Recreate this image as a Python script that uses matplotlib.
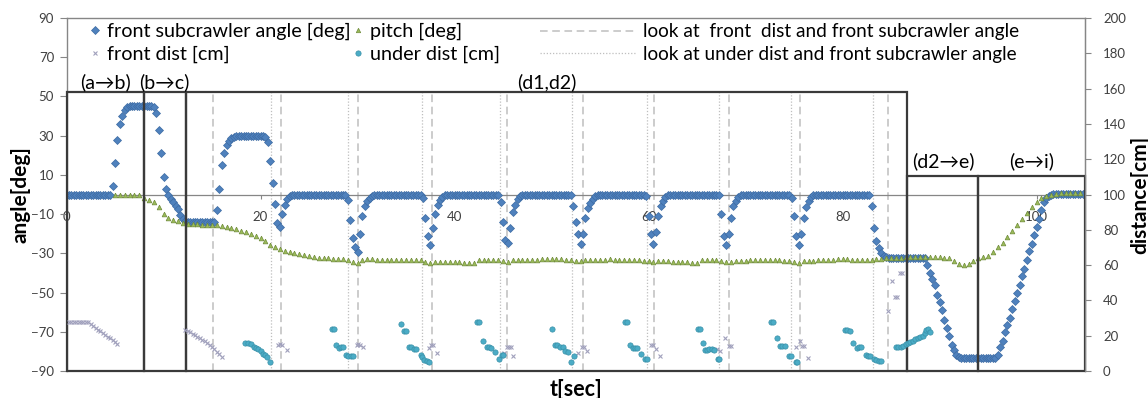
import numpy as np
import matplotlib
matplotlib.use("Agg")
import matplotlib.pyplot as plt
from matplotlib.lines import Line2D
from matplotlib.patches import Rectangle

plt.rcParams['font.family'] = ['Lato', 'DejaVu Sans']

# front subcrawler angle [deg], sampled every 0.25 s from t=0
fa_dt = 0.25
front_angle = [
    -0.5, -0.5, -0.5, -0.5, -0.5, -0.5, -0.5, -0.5, -0.5, -0.5, -0.5, -0.5, -0.5, -0.5, -0.5, -0.5, -0.5, -0.5, -0.5, 4.5,
    16, 28, 36, 40, 43, 44.5, 45, 45, 45, 45, 45, 45, 45, 45, 45, 45, 44.5, 41.7, 33, 21,
    9, 3, -0.5, -2.5, -4, -6, -7.5, -10.5, -12.5, -13.5, -14, -14, -14, -14, -14, -14, -14, -14, -14, -14,
    -14, -14, -8, 3, 15, 21, 25, 27.5, 29, 29.5, 30, 30, 30, 30, 30, 30, 30, 30, 30, 30,
    30, 30, 29.5, 27, 17, 6, -5, -14.5, -16.8, -10, -5.5, -2.5, -1, -0.3, 0, 0, 0, 0, 0, 0,
    0, 0, 0, 0, 0, 0, 0, 0, 0, 0, 0, 0, 0, 0, 0, 0, -3, -13, -22, -27,
    -29.5, -20, -11, -6, -3.5, -2, -1, -0.3, 0, 0, 0, 0, 0, 0, 0, 0, 0, 0, 0, 0,
    0, 0, 0, 0, 0, 0, 0, -2, -12, -21, -26, -17, -10, -5.5, -3, -1.5, -0.5, 0, 0, 0,
    0, 0, 0, 0, 0, 0, 0, 0, 0, 0, 0, 0, 0, 0, 0, 0, 0, 0, 0, -4,
    -14, -23, -24.5, -17, -9, -5.5, -2.5, -1, 0, 0, 0, 0, 0, 0, 0, 0, 0, 0, 0, 0,
    0, 0, 0, 0, 0, 0, 0, 0, 0, -6, -14, -20, -25, -20, -12, -7, -4.5, -2.5, -1, -0.3,
    0, 0, 0, 0, 0, 0, 0, 0, 0, 0, 0, 0, 0, 0, 0, 0, 0, 0, 0, -1,
    -11, -20, -25, -19, -11, -6, -3.5, -1.5, -0.5, 0, 0, 0, 0, 0, 0, 0, 0, 0, 0, 0,
    0, 0, 0, 0, 0, 0, 0, 0, 0, 0, -10, -21, -26, -20, -12, -6, -3.5, -1.5, -0.5, 0,
    0, 0, 0, 0, 0, 0, 0, 0, 0, 0, 0, 0, 0, 0, 0, 0, 0, 0, 0, -2,
    -11, -21, -25.5, -20, -12, -6.5, -3.5, -1.5, -0.5, 0, 0, 0, 0, 0, 0, 0, 0, 0, 0, 0,
    0, 0, 0, 0, 0, 0, 0, 0, 0, 0, 0, 0, -6, -17, -23.5, -27.5, -30, -31.2, -31.8, -32.3,
    -32.5, -32.5, -32.5, -32.5, -32.5, -32.5, -32.5, -32.5, -32.5, -32.5, -32.5, -32.5, -32.5, -32.5, -32.5, -36, -40, -43, -46, -51,
    -55, -59, -64, -68, -72, -76.5, -79.5, -82, -83, -83.5, -83.5, -83.5, -83.5, -83.5, -83.5, -83.5, -83.5, -83.5, -83.5, -83.5,
    -83.5, -83.5, -83.5, -83.5, -82, -78, -74.5, -70, -66.5, -63, -58.5, -54.5, -50, -46, -41.5, -38, -33.5, -29, -25, -20.5,
    -16.5, -12.5, -8, -4, -2, -1, -0.3, 0.5, 0.5, 0.5, 0.5, 0.5, 0.5, 0.5, 0.5, 0.5, 0.5, 0.5, 0.5, 0.5,
]

# pitch [deg], sampled every 0.5 s from t=5
pitch_t0 = 5.0
pitch_dt = 0.5
pitch = [
    -0.3, -0.3, 0, 0, -0.3, -0.5, -2, -3, -4, -6.5, -10, -12, -13, -13.7, -14.3, -14.8, -15, -15.2, -15.3, -15.4,
    -15.5, -15.7, -16.2, -16.6, -17, -17.6, -18.4, -19.3, -20.2, -21.2, -22.3, -23.8, -25.5, -27, -28, -28.7, -29.2, -29.8, -30.3, -31,
    -31.6, -32, -32.3, -32.5, -32.6, -32.7, -32.8, -33, -33.2, -34.3, -34.7, -33.3, -33, -33.1, -33.2, -33.3, -33.3, -33.4, -33.4, -33.4,
    -33.3, -33.2, -33.3, -33.6, -34.3, -35, -34.4, -34.3, -34.3, -34.4, -34.5, -34.6, -34.8, -35, -34.8, -33.4, -33.3, -33.2, -33.2, -33.5,
    -34, -34.3, -33.6, -33.4, -33.4, -33.3, -33.2, -33.2, -33.1, -33, -33, -33.1, -33.1, -33.3, -33.5, -33.9, -34.1, -33.6, -33.4, -33.3,
    -33.3, -33.2, -33.1, -33.2, -33.3, -33.4, -33.3, -33.4, -33.6, -33.8, -34, -34.2, -33.8, -34, -34.1, -34.2, -34.3, -34.3, -34.4, -34.8,
    -35, -33.5, -33.2, -33.3, -33.5, -33.9, -34.6, -34.3, -34, -33.8, -33.7, -33.6, -33.5, -33.5, -33.4, -33.4, -33.5, -33.6, -33.8, -34,
    -34.4, -34.8, -34, -33.8, -33.7, -33.6, -33.4, -33.3, -33.2, -33.1, -33, -33, -33.2, -33.4, -33.5, -33.3, -33.2, -33, -32.8, -32.6,
    -32.4, -32.3, -32.2, -32.1, -32, -32, -32, -32, -32, -32, -32.1, -32.2, -32.6, -33.8, -35.2, -35.8, -35.2, -34, -32.6, -32,
    -31.2, -29.5, -27, -24.5, -21.5, -18.5, -15.5, -12.5, -9.5, -6.5, -4, -2, -0.8, 0, 0.5, 0.7, 0.8, 0.8, 0.8, 0.8,
]

# front dist [cm]
front_dist_t = [0.25, 0.5, 0.75, 1.0, 1.25, 1.5, 1.75, 2.0, 2.25, 2.5, 2.75, 3.0, 3.25, 3.5, 3.75, 4.0, 4.25, 4.5, 4.75, 5.0, 5.25,
                12.25, 12.5, 12.75, 13.0, 13.25, 13.5, 13.75, 14.0, 14.25, 14.5, 14.75, 15.0, 15.25, 15.5, 15.75, 16.0,
                21.8, 22.0, 22.2, 22.7, 29.9, 30.1, 30.3, 30.6, 37.35, 37.55, 37.75, 38.2,
                45.1, 45.4, 45.6, 45.8, 46.05, 52.7, 53.1, 53.3, 53.7, 60.3, 60.5, 60.75, 61.2,
                67.1, 67.4, 67.9, 68.3, 68.55, 75.2, 75.6, 75.8, 76.05, 76.4,
                84.7, 85.1, 85.45, 85.6, 85.9, 86.15]
front_dist = [27.6, 27.6, 27.6, 27.6, 27.6, 27.6, 27.6, 27.6, 27.6, 26.5, 25.5, 24.5, 23.5, 22.5, 21.5, 20.5, 19.5, 18.5, 17.5, 16.3, 15.2,
              23.2, 22.5, 21.9, 21.0, 20.2, 19.5, 18.7, 17.8, 16.9, 15.8, 14.8, 13.6, 12.3, 11.0, 9.4, 7.8,
              14.7, 15.2, 14.7, 11.9, 14.5, 15.3, 14.8, 13.4, 12.8, 14.7, 14.7, 10.4,
              10.4, 13.4, 13.4, 13.4, 8.5, 10.4, 13.8, 13.8, 11.5, 14.7, 14.7, 12.5, 8.5,
              12.3, 11.5, 18.9, 14.4, 14.4, 13.4, 17.2, 14.4, 14.4, 7.6,
              34.2, 51.2, 42.1, 42.1, 55.3, 55.3]

# under dist [cm]
under_dist_t = [18.45, 18.7, 19.0, 19.3, 19.55, 19.75, 20.0, 20.3, 20.5, 20.7, 20.96,
                27.35, 27.55, 27.8, 28.1, 28.3, 28.5, 28.8, 29.05, 29.3, 29.55,
                34.5, 34.8, 35.0, 35.3, 35.55, 35.8, 36.05, 36.5, 36.65, 36.9, 37.15, 37.35,
                42.35, 42.5, 42.9, 43.3, 43.55, 43.8, 44.2, 44.6, 44.85, 45.0,
                50.1, 50.35, 50.6, 50.9, 51.15, 51.4, 51.65, 52.06, 52.3,
                57.6, 57.8, 58.1, 58.4, 58.6, 58.8, 59.2, 59.65, 59.8,
                65.15, 65.3, 65.6, 65.85, 66.05, 66.25, 66.5, 66.75, 67.2, 67.3,
                72.65, 72.8, 73.2, 73.6, 73.8, 74.05, 74.5, 74.65, 75.2, 75.35,
                80.3, 80.5, 80.75, 81.1, 81.5, 81.7, 81.95, 82.4, 82.6, 82.85, 83.2, 83.5, 83.75, 84.0,
                85.5, 85.75, 86.0, 86.25, 86.5, 86.75, 87.0, 87.25, 87.5, 87.75, 88.0, 88.25, 88.5, 88.65, 88.85, 89.0]
under_dist = [15.7, 15.7, 15.3, 13.8, 13.0, 12.3, 11.5, 9.6, 8.8, 8.1, 5.3,
              23.6, 23.6, 14.7, 13.2, 13.6, 13.4, 8.8, 8.6, 8.5, 8.3,
              26.4, 22.7, 22.7, 13.8, 13.8, 12.3, 12.6, 9.1, 8.0, 6.2, 5.6, 5.2,
              27.9, 27.9, 16.8, 13.6, 13.8, 13.2, 11.0, 6.6, 9.1, 9.3,
              23.6, 14.7, 14.7, 13.6, 13.8, 11.3, 11.0, 5.3, 8.7,
              27.6, 27.6, 14.7, 12.8, 13.2, 12.8, 9.4, 6.6, 6.6,
              23.8, 23.8, 15.7, 12.0, 11.9, 12.5, 12.3, 11.9, 6.6, 6.6,
              27.6, 27.6, 18.9, 14.4, 14.0, 14.2, 8.7, 8.5, 5.3, 5.3,
              23.2, 23.0, 22.7, 15.7, 13.2, 13.4, 13.4, 8.8, 8.5, 8.3, 6.6, 6.2, 5.8, 5.5,
              13.6, 13.4, 13.6, 14.4, 15.3, 16.0, 16.6, 17.2, 18.0, 18.9, 19.5, 19.8, 21.5, 23.2, 24.0, 22.0]

# reference lines (t [sec])
look_front_t = [15.15, 22.16, 30.1, 37.73, 45.46, 53.2, 60.6, 68.25, 75.67, 84.74]
look_under_t = [21.13, 28.97, 36.7, 44.64, 52.16, 59.8, 67.3, 74.74, 83.1]

# phase boxes: label, t start, t end, top angle
phase_labels = ['(a\u2192b)', '(b\u2192c)', '(d1,d2)', '(d2\u2192e)', '(e\u2192i)']
phase_start = [0, 7.94, 12.27, 86.7, 94.0]
phase_end = [7.94, 12.27, 86.7, 94.0, 105.0]
phase_top = [52.4, 52.4, 52.4, 9.4, 9.4]
label_gap = [0.5, 0.5, 0.5, 3.0, 3.0]

W, H = 1148, 398
fig = plt.figure(figsize=(W / 100, H / 100), dpi=100)
ax = fig.add_axes([66.5 / W, 1 - 371 / H, (1085 - 66.5) / W, (371 - 18) / H])
ax2 = ax.twinx()

tick_col = '#404040'
grid_col = '#868686'

t_fa = np.arange(len(front_angle)) * fa_dt
t_pitch = pitch_t0 + np.arange(len(pitch)) * pitch_dt

ax.vlines(look_front_t, -90, 52.4, colors='#BFBFBF', linewidth=1.1, linestyles=(0, (5, 3)), zorder=1)
ax.vlines(look_under_t, -90, 52.4, colors='#BFBFBF', linewidth=0.9, linestyles=(0, (1, 1.5)), zorder=1)

ax.plot(t_fa, front_angle, linestyle='none', marker='D', markersize=4.2,
        markerfacecolor='#4F81BD', markeredgecolor='#3D6BA3', markeredgewidth=0.5, zorder=3)
ax.plot(t_pitch, pitch, linestyle='none', marker='^', markersize=3.4,
        markerfacecolor='#9BBB59', markeredgecolor='#6E8A3A', markeredgewidth=0.5, zorder=4)

ax2.plot(front_dist_t, front_dist, linestyle='none', marker='x', markersize=3.3,
         markeredgecolor='#A0A0BC', markeredgewidth=0.8)
ax2.plot(under_dist_t, under_dist, linestyle='none', marker='o', markersize=3.8,
         markerfacecolor='#4BACC6', markeredgecolor='#3990A8', markeredgewidth=0.5)

# phase boxes and labels, drawn on top
for lab, s, e, top, gap in zip(phase_labels, phase_start, phase_end, phase_top, label_gap):
    ax2.add_patch(Rectangle((s, -90), e - s, top + 90, transform=ax.transData,
                            fill=False, edgecolor='#3A3A3A', linewidth=1.6, clip_on=False))
    ax2.text((s + e) / 2, top + gap, lab, transform=ax.transData, ha='center', va='bottom',
             fontsize=14, color='black')

ax.set_xlim(0, 105)
ax.set_ylim(-90, 90)
ax2.set_ylim(0, 200)
ax.set_xticks(np.arange(0, 101, 20))
ax.set_yticks(np.arange(-90, 91, 20))
ax2.set_yticks(np.arange(0, 201, 20))

for sp in ['top', 'left', 'right']:
    ax.spines[sp].set_color(grid_col)
    ax.spines[sp].set_linewidth(1.0)
ax.spines['bottom'].set_position(('data', 0))
ax.spines['bottom'].set_color(grid_col)
ax.spines['bottom'].set_linewidth(0.9)
for sp in ['top', 'left', 'bottom']:
    ax2.spines[sp].set_visible(False)
ax2.spines['right'].set_color(grid_col)

ax.tick_params(axis='x', direction='out', length=3, width=0.8, color=grid_col, pad=9,
               labelsize=9.5, labelcolor=tick_col)
ax.tick_params(axis='y', direction='out', length=5, width=0.8, color=grid_col, pad=4,
               labelsize=9.5, labelcolor=tick_col)
ax2.tick_params(axis='y', direction='out', length=4, width=0.8, color=grid_col, pad=9,
                labelsize=9.5, labelcolor=tick_col)

ax.set_ylabel('angle[deg]', fontsize=15, fontweight='bold')
ax.yaxis.set_label_coords(-0.035, 0.5)
ax2.set_ylabel('distance[cm]', fontsize=15, fontweight='bold', rotation=90)
ax2.yaxis.set_label_coords(1.044, 0.5)
ax.set_xlabel('t[sec]', fontsize=15.5, fontweight='bold')
ax.xaxis.set_label_coords(0.5, -0.022)

# legend in three columns
h_fa = Line2D([], [], linestyle='none', marker='D', markersize=4.2, markerfacecolor='#4F81BD',
              markeredgecolor='#3D6BA3', markeredgewidth=0.5)
h_fd = Line2D([], [], linestyle='none', marker='x', markersize=3.3, markeredgecolor='#A0A0BC',
              markeredgewidth=0.8)
h_p = Line2D([], [], linestyle='none', marker='^', markersize=3.2, markerfacecolor='#9BBB59',
             markeredgecolor='#6E8A3A', markeredgewidth=0.5)
h_ud = Line2D([], [], linestyle='none', marker='o', markersize=3.8, markerfacecolor='#4BACC6',
              markeredgecolor='#3990A8', markeredgewidth=0.5)
h_lf = Line2D([], [], color='#BFBFBF', linewidth=1.1, linestyle=(0, (5, 3)))
h_lu = Line2D([], [], color='#BFBFBF', linewidth=0.9, linestyle=(0, (1, 1.5)))

leg_kw = dict(frameon=False, borderpad=0, borderaxespad=0, labelspacing=0.28,
              loc='upper left', bbox_transform=fig.transFigure)
l1 = ax2.legend([h_fa, h_fd], ['front subcrawler angle [deg]', 'front dist [cm]'], fontsize=14.2,
                handlelength=0.7, handletextpad=0.25, bbox_to_anchor=(88 / W, 1 - 23 / H), **leg_kw)
ax2.add_artist(l1)
l2 = ax2.legend([h_p, h_ud], ['pitch [deg]', 'under dist [cm]'], fontsize=14.2,
                handlelength=0.7, handletextpad=0.25, bbox_to_anchor=(351 / W, 1 - 23 / H), **leg_kw)
ax2.add_artist(l2)
l3 = ax2.legend([h_lf, h_lu], ['look at  front  dist and front subcrawler angle',
                               'look at under dist and front subcrawler angle'], fontsize=13.7,
                handlelength=5.0, handletextpad=0.4, bbox_to_anchor=(540 / W, 1 - 23.5 / H), **leg_kw)

fig.savefig('out.png', dpi=100)
